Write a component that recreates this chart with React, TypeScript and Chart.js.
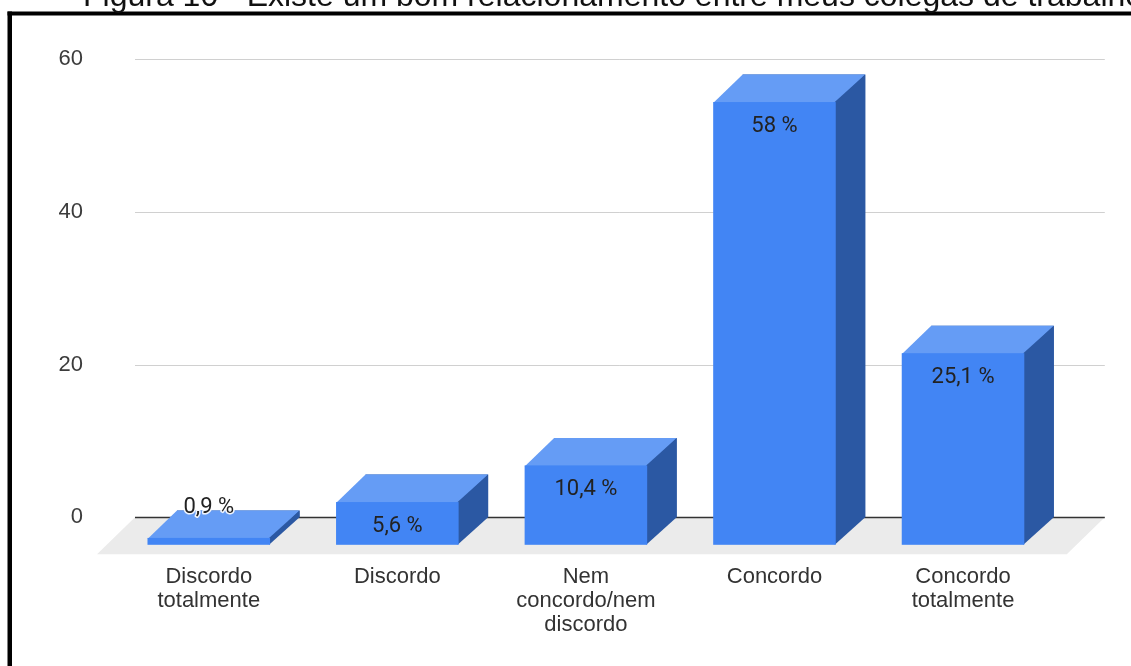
import React, { useEffect, useRef } from 'react';
import { Chart, registerables } from 'chart.js';

Chart.register(...registerables);

// Survey answers (one bar per answer) and their share of respondents, in %.
const categories: string[][] = [
  ['Discordo', 'totalmente'],
  ['Discordo'],
  ['Nem', 'concordo/nem', 'discordo'],
  ['Concordo'],
  ['Concordo', 'totalmente'],
];
const percentages: number[] = [0.9, 5.6, 10.4, 58, 25.1];
const yTickValues: number[] = [0, 20, 40, 60];
const figureTitle = 'Figura 10 - Existe um bom relacionamento entre meus colegas de trabalho';

const W = 1131;
const H = 666;

// Faux-3D look: front / top / side shades of the bars.
const FRONT = '#4285f4';
const TOP = '#659cf5';
const SIDE = '#2b58a3';
const FLOOR = '#ebebeb';
const DEPTH_X = 29.5;
const DEPTH_Y = 27.5;
const FLOOR_X = 38;
const FLOOR_Y = 37;

const AXIS_FONT = "'Liberation Sans', Arial, sans-serif";
const LABEL_FONT = "Roboto, 'Liberation Sans', sans-serif";

const formatPercent = (v: number) =>
  v.toLocaleString('pt-BR', { maximumFractionDigits: 1 }) + ' %';

const poly = (ctx: CanvasRenderingContext2D, pts: number[][]) => {
  ctx.beginPath();
  ctx.moveTo(pts[0][0], pts[0][1]);
  for (let i = 1; i < pts.length; i++) ctx.lineTo(pts[i][0], pts[i][1]);
  ctx.closePath();
  ctx.fill();
};

const box3dPlugin = {
  id: 'box3d',
  beforeDatasetsDraw(chart: any) {
    const { ctx, chartArea, scales } = chart;
    const y = scales.y;
    const zero = y.getPixelForValue(0);
    const left = chartArea.left - 9;
    const right = chartArea.right + 18;
    ctx.save();
    // floor
    ctx.fillStyle = FLOOR;
    poly(ctx, [
      [left, zero],
      [right, zero],
      [right - FLOOR_X, zero + FLOOR_Y],
      [left - FLOOR_X, zero + FLOOR_Y],
    ]);
    // horizontal grid on the back wall
    y.ticks.forEach((t: any) => {
      const py = Math.round(y.getPixelForValue(t.value)) + 0.5;
      ctx.beginPath();
      ctx.strokeStyle = t.value === 0 ? '#333333' : '#d0d0d0';
      ctx.lineWidth = t.value === 0 ? 1.5 : 1;
      ctx.moveTo(left, py);
      ctx.lineTo(right, py);
      ctx.stroke();
    });
    ctx.restore();
  },
  afterDatasetsDraw(chart: any) {
    const { ctx } = chart;
    const meta = chart.getDatasetMeta(0);
    const values = chart.data.datasets[0].data as number[];
    ctx.save();
    meta.data.forEach((bar: any, i: number) => {
      const { x, y: top, base, width } = bar.getProps(['x', 'y', 'base', 'width'], true);
      const L = x - width / 2;
      const R = x + width / 2;
      // top and side faces reach 1px under the front face so no seam shows
      ctx.fillStyle = TOP;
      poly(ctx, [
        [L - DEPTH_X, top + DEPTH_Y + 1],
        [L, top],
        [R, top],
        [R - DEPTH_X, top + DEPTH_Y + 1],
      ]);
      ctx.fillStyle = SIDE;
      poly(ctx, [
        [R - DEPTH_X - 1, top + DEPTH_Y],
        [R, top],
        [R, base],
        [R - DEPTH_X - 1, base + DEPTH_Y],
      ]);
      ctx.fillStyle = FRONT;
      ctx.fillRect(L - DEPTH_X, top + DEPTH_Y, width, base - top);

      // value label on the front face (or above it when the bar is too short)
      const text = formatPercent(values[i]);
      const cx = x - DEPTH_X;
      const frontTop = top + DEPTH_Y;
      ctx.font = `22px ${LABEL_FONT}`;
      ctx.textAlign = 'center';
      ctx.textBaseline = 'alphabetic';
      if (base - top > 32) {
        ctx.fillStyle = '#222222';
        ctx.fillText(text, cx, frontTop + 30);
      } else {
        const ty = frontTop - 25;
        ctx.lineWidth = 3;
        ctx.lineJoin = 'round';
        ctx.strokeStyle = 'rgba(255,255,255,0.9)';
        ctx.strokeText(text, cx, ty);
        ctx.fillStyle = '#222222';
        ctx.fillText(text, cx, ty);
      }
    });
    ctx.restore();
  },
  afterDraw(chart: any) {
    const { ctx } = chart;
    ctx.save();
    // frame around the figure
    ctx.fillStyle = '#000000';
    ctx.fillRect(7.5, 11.5, 4.5, H - 11.5);
    ctx.fillRect(7.5, 11.5, W - 7.5, 4);
    // caption (partly above the frame)
    ctx.font = `32px ${AXIS_FONT}`;
    ctx.textAlign = 'left';
    ctx.textBaseline = 'alphabetic';
    ctx.fillStyle = '#111111';
    ctx.fillText(figureTitle, 83, 5.5);
    ctx.restore();
  },
};

export default function App() {
  const canvasRef = useRef<HTMLCanvasElement | null>(null);

  useEffect(() => {
    if (!canvasRef.current) return;
    const chart = new Chart(canvasRef.current, {
      type: 'bar',
      data: {
        labels: categories as any,
        datasets: [
          {
            data: percentages,
            backgroundColor: SIDE,
            borderWidth: 0,
            barPercentage: 0.65,
            categoryPercentage: 1,
          },
        ],
      },
      options: {
        responsive: false,
        animation: false,
        devicePixelRatio: 1,
        layout: { padding: { left: 0, right: 44.2, top: 59.3, bottom: 0 } },
        plugins: {
          legend: { display: false },
          tooltip: { enabled: false },
          title: { display: false },
        },
        scales: {
          x: {
            grid: { display: false, drawTicks: false },
            border: { display: false },
            ticks: {
              padding: 47.6,
              labelOffset: -DEPTH_X,
              autoSkip: false,
              maxRotation: 0,
              color: '#333333',
              font: { family: AXIS_FONT, size: 22, lineHeight: 1.1 },
            },
            afterFit: (s: any) => {
              s.height = 148.7;
              s.paddingLeft = 0;
              s.paddingRight = 0;
            },
          },
          y: {
            min: 0,
            max: 60,
            grid: { display: false, drawTicks: false },
            border: { display: false },
            ticks: {
              padding: 61,
              color: '#3c3c3c',
              font: { family: AXIS_FONT, size: 22 },
            },
            afterBuildTicks: (s: any) => {
              s.ticks = yTickValues.map((v) => ({ value: v }));
            },
            afterFit: (s: any) => {
              s.width = 144;
              s.paddingTop = 0;
              s.paddingBottom = 0;
            },
          },
        },
      },
      plugins: [box3dPlugin],
    });
    return () => chart.destroy();
  }, []);

  return (
    <div style={{ position: 'fixed', left: 0, top: 0, width: W, height: H, background: '#ffffff', overflow: 'hidden' }}>
      <canvas ref={canvasRef} width={W} height={H} style={{ display: 'block', width: W, height: H }} />
    </div>
  );
}
